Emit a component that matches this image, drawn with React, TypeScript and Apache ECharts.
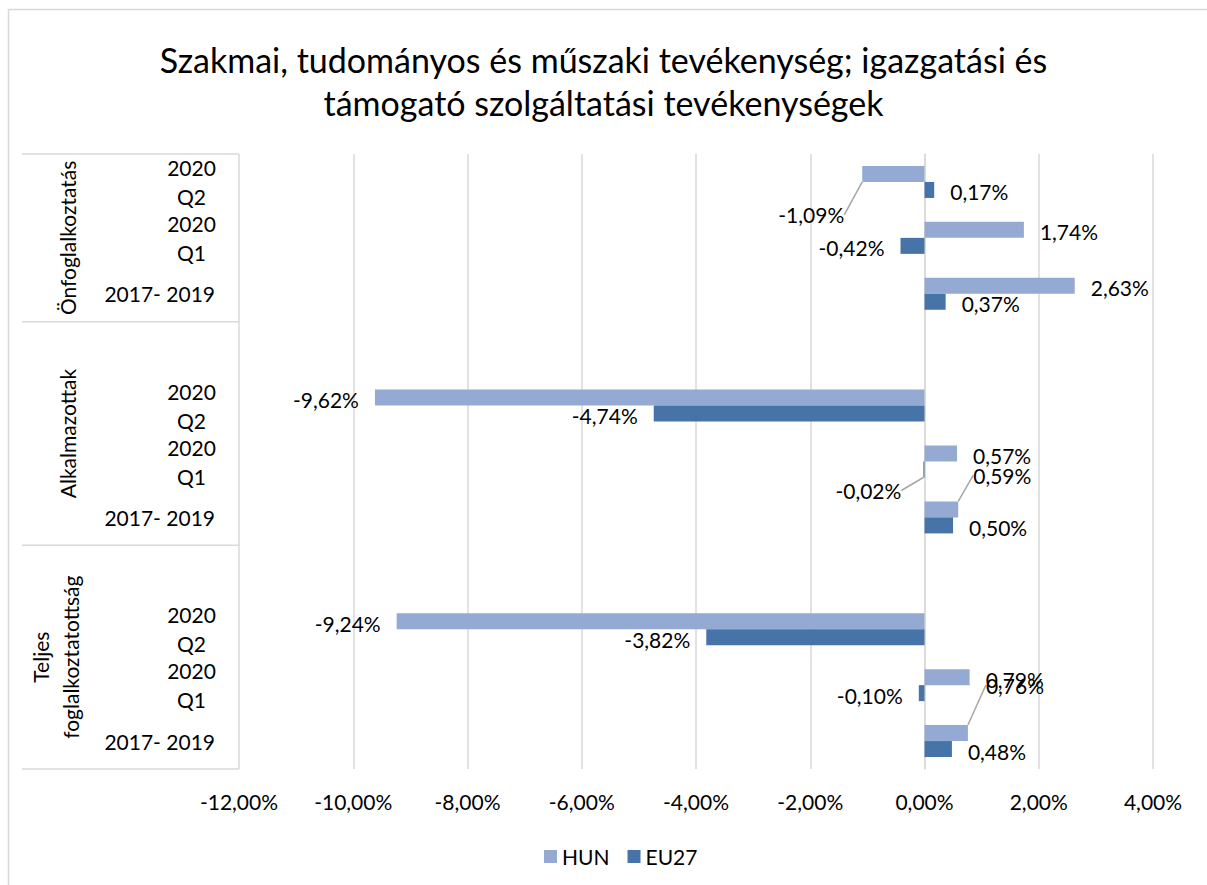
import React, { useEffect, useRef } from "react";
import * as echarts from "echarts";

const titleText = "Szakmai, tudományos és műszaki tevékenység; igazgatási és\ntámogató szolgáltatási tevékenységek";
const groups = ["Önfoglalkoztatás", "Alkalmazottak", "Teljes\nfoglalkoztatottság"];
const periods = ["2020\nQ2", "2020\nQ1", "2017- 2019"];
const seriesNames = ["HUN", "EU27"];
// values per group, in order of periods
const hunValues = [-1.09, 1.74, 2.63, -9.62, 0.57, 0.59, -9.24, 0.79, 0.76];
const eu27Values = [0.17, -0.42, 0.37, -4.74, -0.02, 0.5, -3.82, -0.1, 0.48];
const xMin = -12;
const xMax = 4;
const xStep = 2;

// label nudges (pixels) for manually moved Excel labels
const hunLabelShift = [[-2, 39], [0, 0], [0, 0], [0, 0], [0, 0], [-1, -36], [0, 0], [0, 0], [2, -50]];
const euLabelShift = [[0, 0], [0, 0], [0, 0], [0, 0], [-6, 19], [0, 0], [0, 0], [0, 0], [0, 0]];
const hunLeader = [true, false, false, false, false, true, false, false, true];
const euLeader = [false, false, false, false, true, false, false, false, false];

const FONT = "Lato, 'Open Sans', sans-serif";
const FS = 21;
const HUN_COLOR = "#95AAD3";
const EU_COLOR = "#4673A8";
const GRID_COLOR = "#D9D9D9";

// build slots: a blank spacer row before every group but the first
const slotLabels: string[] = [];
const slotIndex: number[] = []; // data index per slot, -1 for spacer
const groupRanges: [number, number][] = [];
groups.forEach((g, gi) => {
  const start = slotLabels.length;
  if (gi > 0) {
    slotLabels.push(" ".repeat(gi));
    slotIndex.push(-1);
  }
  periods.forEach((p, pi) => {
    slotLabels.push(p);
    slotIndex.push(gi * periods.length + pi);
  });
  groupRanges.push([start, slotLabels.length]);
});

const fmt = (v: number) => v.toFixed(2).replace(".", ",") + "%";

function buildData(values: number[], leaders: boolean[]) {
  return slotIndex.map((i) =>
    i < 0 ? null : { value: values[i], labelLine: { show: leaders[i] } }
  );
}

function makeLayout(values: number[], shifts: number[][]) {
  return (params: any) => {
    const i = slotIndex[params.dataIndex];
    if (i == null || i < 0) return {};
    const v = values[i];
    const r = params.rect;
    const [nx, ny] = shifts[i];
    const pos = v >= 0;
    return {
      x: (pos ? r.x + r.width + 16 : r.x - 16) + nx,
      y: r.y + r.height / 2 + 2 + ny,
      align: pos ? "left" : "right",
      verticalAlign: "middle",
    };
  };
}

const catFormatter = (val: string) => {
  if (val.indexOf("\n") >= 0) {
    return val
      .split("\n")
      .map((s) => "{c|" + s + "}")
      .join("\n");
  }
  return val;
};

export default function App() {
  const ref = useRef<HTMLDivElement>(null);
  useEffect(() => {
    const chart = echarts.init(ref.current!, null, { renderer: "svg" });
    const labelCommon = {
      show: true,
      position: "right",
      color: "#000",
      fontSize: FS,
      fontFamily: FONT,
      formatter: (p: any) => fmt(p.value),
    };
    chart.setOption({
      animation: false,
      backgroundColor: "#fff",
      title: {
        text: titleText,
        left: "center",
        top: 33,
        textStyle: {
          fontFamily: FONT,
          fontSize: 34,
          fontWeight: "normal",
          color: "#000",
          lineHeight: 43,
        },
      },
      legend: {
        data: seriesNames,
        left: 539,
        top: 841,
        icon: "rect",
        itemWidth: 13,
        itemHeight: 13,
        itemGap: 18,
        textStyle: { fontFamily: FONT, fontSize: FS, color: "#000" },
      },
      grid: { left: 239, right: 54, top: 154, bottom: 116, containLabel: false },
      xAxis: {
        type: "value",
        min: xMin,
        max: xMax,
        interval: xStep,
        axisLine: { show: false },
        axisTick: { show: false },
        splitLine: { show: true, lineStyle: { color: GRID_COLOR, width: 1.5 } },
        axisLabel: {
          formatter: (v: number) => fmt(v),
          fontFamily: FONT,
          fontSize: FS,
          color: "#000",
          margin: 22,
        },
      },
      yAxis: {
        type: "category",
        inverse: true,
        data: slotLabels,
        axisLine: { show: true, lineStyle: { color: GRID_COLOR, width: 1.5 } },
        axisTick: { show: false },
        axisLabel: {
          interval: 0,
          formatter: catFormatter,
          fontFamily: FONT,
          fontSize: FS,
          color: "#000",
          align: "right",
          margin: 24,
          lineHeight: 29,
          rich: {
            c: { width: 47, align: "center", fontFamily: FONT, fontSize: FS, color: "#000", lineHeight: 29 },
          },
        },
      },
      series: [
        {
          name: seriesNames[0],
          type: "bar",
          data: buildData(hunValues, hunLeader),
          barWidth: 16,
          barGap: "0%",
          itemStyle: { color: HUN_COLOR },
          label: labelCommon,
          labelLine: { lineStyle: { color: "#A6A6A6", width: 1.5 } },
          labelLayout: makeLayout(hunValues, hunLabelShift),
        },
        {
          name: seriesNames[1],
          type: "bar",
          data: buildData(eu27Values, euLeader),
          barWidth: 16,
          barGap: "0%",
          itemStyle: { color: EU_COLOR },
          label: labelCommon,
          labelLine: { lineStyle: { color: "#A6A6A6", width: 1.5 } },
          labelLayout: makeLayout(eu27Values, euLabelShift),
        },
      ],
    });

    const c0 = chart.convertToPixel({ yAxisIndex: 0 }, 0) as number;
    const c1 = chart.convertToPixel({ yAxisIndex: 0 }, 1) as number;
    const band = c1 - c0;
    const edge = (i: number) => c0 + (i - 0.5) * band;
    const axisX = chart.convertToPixel({ xAxisIndex: 0 }, xMin) as number;
    const graphics: any[] = [
      {
        type: "rect",
        shape: { x: 8.5, y: 9.5, width: 1220, height: 900 },
        style: { fill: "none", stroke: GRID_COLOR, lineWidth: 1.5 },
        silent: true,
      },
    ];
    const bounds = new Set<number>();
    groupRanges.forEach(([s, e]) => {
      bounds.add(s);
      bounds.add(e);
    });
    bounds.forEach((b) => {
      const y = edge(b);
      graphics.push({
        type: "line",
        shape: { x1: 22, y1: y, x2: axisX, y2: y },
        style: { stroke: GRID_COLOR, lineWidth: 1.5 },
        silent: true,
      });
    });
    groupRanges.forEach(([s, e], gi) => {
      const yc = (edge(s) + edge(e)) / 2;
      const twoLine = groups[gi].indexOf("\n") >= 0;
      graphics.push({
        type: "text",
        x: twoLine ? 55 : 67,
        y: yc,
        rotation: Math.PI / 2,
        style: {
          text: groups[gi],
          fontFamily: FONT,
          fontSize: FS,
          fill: "#000",
          align: "center",
          verticalAlign: "middle",
          lineHeight: 30,
        },
        silent: true,
      });
    });
    chart.setOption({ graphic: graphics });
    return () => chart.dispose();
  }, []);
  return (
    <div
      ref={ref}
      style={{ position: "absolute", left: 0, top: 0, width: 1207, height: 885 }}
    />
  );
}
